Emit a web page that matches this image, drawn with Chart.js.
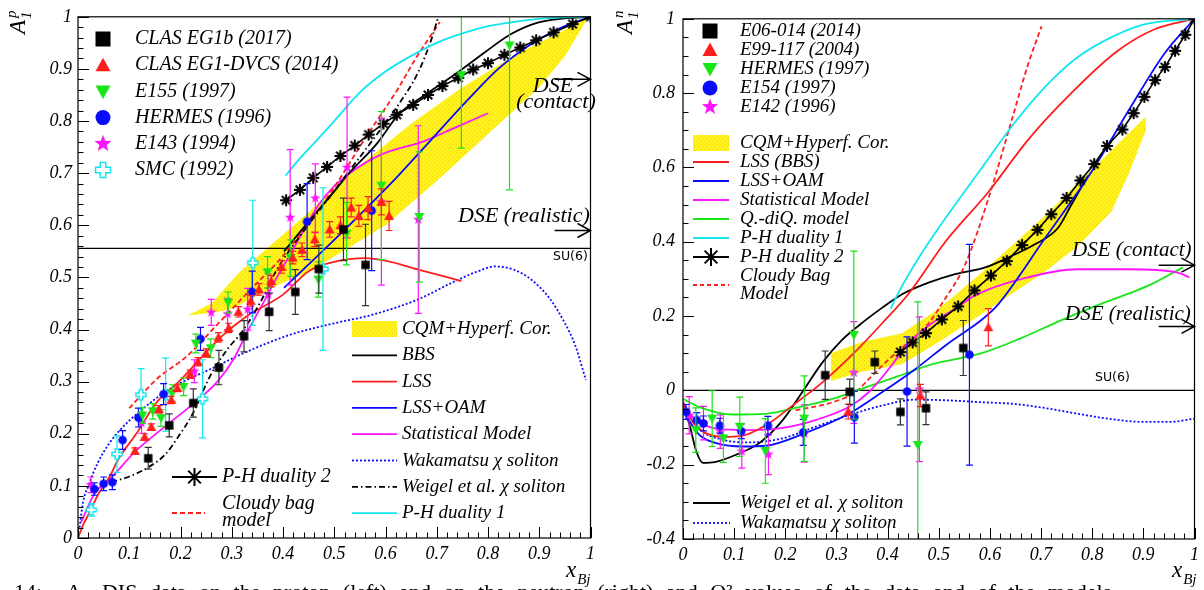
<!DOCTYPE html>
<html>
<head>
<meta charset="utf-8">
<script src="https://cdn.jsdelivr.net/npm/chart.js"></script>
<style>
  html, body { margin: 0; padding: 0; background: #fff; overflow: hidden; }
  body { width: 1204px; height: 590px; position: relative; }
  .panel { position: absolute; top: 0; height: 590px; }
  #wrapP { left: 0; width: 600px; }
  #wrapN { left: 600px; width: 604px; }
  .caption { position: absolute; top: 581px; left: 14px; font: 22px "Liberation Serif", serif;
             white-space: nowrap; word-spacing: 7px; line-height: 22px; }
</style>
</head>
<body>
<div class="panel" id="wrapP"><canvas id="protonChart" width="600" height="590"></canvas></div>
<div class="panel" id="wrapN"><canvas id="neutronChart" width="604" height="590"></canvas></div>
<div class="caption">14:&nbsp; A₁ DIS data on the proton (left) and on the neutron (right) and Q² values of the data and of the models.</div>
<script>
// ---------------- proton panel (left) ----------------
const pClasEg1bX = [0.137, 0.178, 0.225, 0.275, 0.324, 0.373, 0.424, 0.470, 0.518, 0.561];
const pClasEg1bY = [0.153, 0.216, 0.259, 0.327, 0.387, 0.434, 0.472, 0.516, 0.592, 0.524];
const pClasEg1bE = [0.021, 0.022, 0.027, 0.033, 0.030, 0.036, 0.043, 0.046, 0.060, 0.078];

const pDvcsX = [0.111, 0.130, 0.143, 0.158, 0.182, 0.194, 0.219, 0.234, 0.250, 0.274, 0.294, 0.313, 0.337,
                0.353, 0.377, 0.397, 0.419, 0.437, 0.462, 0.491, 0.512, 0.533, 0.548, 0.566, 0.592, 0.607];
const pDvcsY = [0.167, 0.194, 0.213, 0.247, 0.265, 0.288, 0.314, 0.338, 0.355, 0.385, 0.403, 0.434, 0.455,
                0.477, 0.493, 0.520, 0.538, 0.553, 0.573, 0.592, 0.600, 0.634, 0.618, 0.633, 0.645, 0.618];
const pDvcsE = [0.006, 0.006, 0.006, 0.007, 0.007, 0.007, 0.008, 0.008, 0.008, 0.009, 0.009, 0.010, 0.010,
                0.011, 0.011, 0.012, 0.012, 0.013, 0.014, 0.015, 0.016, 0.018, 0.020, 0.022, 0.025, 0.028];

const pE155X = [0.126, 0.146, 0.162, 0.184, 0.206, 0.230, 0.259, 0.293, 0.370, 0.415, 0.469, 0.524, 0.592, 0.666, 0.748, 0.842];
const pE155Y = [0.235, 0.243, 0.230, 0.278, 0.290, 0.373, 0.364, 0.452, 0.510, 0.537, 0.496, 0.584, 0.676, 0.616, 0.888, 0.945];
const pE155E = [0.015, 0.015, 0.016, 0.016, 0.017, 0.018, 0.018, 0.020, 0.030, 0.035, 0.034, 0.060, 0.142, 0.125, 0.140, 0.277];

const pHermesX = [0.032, 0.050, 0.067, 0.087, 0.118, 0.167, 0.239, 0.340, 0.447, 0.573];
const pHermesY = [0.094, 0.104, 0.107, 0.188, 0.231, 0.276, 0.382, 0.472, 0.607, 0.628];
const pHermesE = [0.012, 0.013, 0.014, 0.018, 0.018, 0.020, 0.022, 0.040, 0.073, 0.115];

const pE143X = [0.025, 0.124, 0.227, 0.260, 0.292, 0.331, 0.371, 0.414, 0.463, 0.525, 0.592, 0.664];
const pE143Y = [0.102, 0.221, 0.320, 0.433, 0.430, 0.439, 0.467, 0.615, 0.652, 0.711, 0.645, 0.611];
const pE143E = [0.015, 0.020, 0.022, 0.025, 0.030, 0.040, 0.040, 0.130, 0.066, 0.135, 0.160, 0.180];

const pSmcX = [0.026, 0.076, 0.123, 0.171, 0.243, 0.341, 0.478];
const pSmcY = [0.054, 0.161, 0.275, 0.275, 0.267, 0.528, 0.516];
const pSmcE = [0.012, 0.035, 0.050, 0.070, 0.075, 0.120, 0.156];

const pBandUpX = [0.214, 0.26, 0.315, 0.38, 0.45, 0.55, 0.65, 0.75, 0.85, 0.95, 0.99];
const pBandUpY = [0.427, 0.45, 0.51, 0.565, 0.625, 0.715, 0.795, 0.865, 0.925, 0.975, 0.995];
const pBandLoX = [0.214, 0.265, 0.30, 0.35, 0.40, 0.45, 0.50, 0.60, 0.70, 0.80, 0.90, 0.95, 0.99];
const pBandLoY = [0.427, 0.432, 0.44, 0.465, 0.49, 0.51, 0.54, 0.60, 0.685, 0.775, 0.865, 0.925, 0.99];

const pBbsX = [0.402, 0.45, 0.50, 0.528, 0.573, 0.586, 0.625, 0.677, 0.742, 0.794, 0.845, 0.897, 0.949, 1.0];
const pBbsY = [0.55, 0.607, 0.665, 0.699, 0.745, 0.76, 0.812, 0.85, 0.894, 0.932, 0.967, 0.989, 0.997, 1.0];

const pLssX = [0, 0.01, 0.023, 0.04, 0.062, 0.078, 0.113, 0.155, 0.194, 0.233, 0.278, 0.33, 0.40, 0.45, 0.50, 0.56, 0.60, 0.664, 0.748];
const pLssY = [0, 0.025, 0.05, 0.085, 0.118, 0.15, 0.199, 0.262, 0.297, 0.338, 0.385, 0.426, 0.467, 0.512, 0.530, 0.537, 0.532, 0.515, 0.493];

const pOamX = [0.402, 0.45, 0.5, 0.56, 0.62, 0.69, 0.76, 0.82, 0.88, 0.94, 1.0];
const pOamY = [0.48, 0.525, 0.572, 0.63, 0.69, 0.765, 0.84, 0.9, 0.945, 0.978, 1.0];

const pStatX = [0.006, 0.032, 0.065, 0.113, 0.175, 0.223, 0.272, 0.304, 0.33, 0.362, 0.388, 0.412, 0.44, 0.47, 0.50, 0.53, 0.59, 0.677, 0.735, 0.80];
const pStatY = [0.03, 0.085, 0.116, 0.167, 0.218, 0.256, 0.30, 0.344, 0.395, 0.452, 0.50, 0.54, 0.59, 0.64, 0.675, 0.70, 0.735, 0.762, 0.787, 0.815];

const pWakaX = [0.003, 0.01, 0.02, 0.039, 0.06, 0.08, 0.123, 0.181, 0.265, 0.324, 0.414, 0.5, 0.573, 0.664, 0.73, 0.781, 0.813, 0.85, 0.884, 0.92, 0.949, 0.97, 0.991];
const pWakaY = [0.02, 0.07, 0.1, 0.145, 0.18, 0.205, 0.245, 0.287, 0.327, 0.355, 0.39, 0.412, 0.428, 0.458, 0.49, 0.512, 0.521, 0.515, 0.496, 0.46, 0.414, 0.37, 0.303];

const pWeigelX = [0.065, 0.10, 0.136, 0.17, 0.194, 0.223, 0.259, 0.29, 0.324, 0.36, 0.388, 0.43, 0.48, 0.53, 0.58, 0.625, 0.664, 0.69, 0.703];
const pWeigelY = [0.107, 0.118, 0.135, 0.16, 0.192, 0.237, 0.313, 0.36, 0.401, 0.46, 0.515, 0.575, 0.64, 0.705, 0.77, 0.831, 0.894, 0.958, 1.0];

const pPh1X = [0.405, 0.43, 0.463, 0.5, 0.55, 0.6, 0.65, 0.7, 0.75, 0.8, 0.85, 0.9, 0.95, 1.0];
const pPh1Y = [0.695, 0.725, 0.76, 0.80, 0.855, 0.895, 0.925, 0.95, 0.968, 0.982, 0.99, 0.996, 0.999, 1.0];

const pPh2X = [0.406, 0.433, 0.459, 0.486, 0.512, 0.54, 0.567, 0.596, 0.622, 0.654, 0.683, 0.711, 0.742, 0.771, 0.80, 0.832, 0.863, 0.894, 0.928, 0.965, 1.0];
const pPh2Y = [0.648, 0.668, 0.691, 0.712, 0.733, 0.753, 0.774, 0.795, 0.812, 0.831, 0.85, 0.867, 0.883, 0.899, 0.911, 0.927, 0.941, 0.955, 0.970, 0.986, 1.0];

const pCloudyX = [0.10, 0.155, 0.214, 0.272, 0.343, 0.39, 0.431, 0.496, 0.561, 0.625, 0.657, 0.706];
const pCloudyY = [0.249, 0.306, 0.35, 0.41, 0.483, 0.53, 0.579, 0.667, 0.768, 0.863, 0.917, 0.99];

const pSu6 = 5 / 9;
const pDseContact = 0.88;
const pDseRealistic = 0.59;

// ---------------- neutron panel (right) ----------------
const nE06X = [0.278, 0.326, 0.375, 0.425, 0.475, 0.548];
const nE06Y = [0.041, -0.004, 0.076, -0.058, -0.048, 0.114];
const nE06E = [0.065, 0.034, 0.030, 0.035, 0.044, 0.074];

const nE99X = [0.323, 0.464, 0.597];
const nE99Y = [-0.057, -0.014, 0.170];
const nE99E = [0.020, 0.030, 0.050];

const nHermesX = [0.025, 0.057, 0.079, 0.111, 0.161, 0.237, 0.334, 0.459];
const nHermesY = [-0.107, -0.076, -0.129, -0.098, -0.163, -0.076, 0.149, -0.147];
const nHermesE = [0.060, 0.075, 0.065, 0.080, 0.087, 0.115, 0.226, 0.385];

const nE154X = [0.006, 0.027, 0.040, 0.072, 0.114, 0.166, 0.235, 0.335, 0.438, 0.560];
const nE154Y = [-0.058, -0.080, -0.089, -0.095, -0.110, -0.095, -0.113, -0.072, -0.003, 0.096];
const nE154E = [0.020, 0.020, 0.020, 0.020, 0.020, 0.025, 0.035, 0.070, 0.147, 0.297];

const nE142X = [0.012, 0.040, 0.073, 0.115, 0.167, 0.237, 0.334, 0.462];
const nE142Y = [-0.067, -0.088, -0.111, -0.164, -0.172, -0.116, 0.048, 0.003];
const nE142E = [0.050, 0.045, 0.045, 0.045, 0.055, 0.077, 0.137, 0.195];

const nBandX = [0.289, 0.35, 0.428, 0.5, 0.578, 0.643, 0.708, 0.773, 0.837, 0.87, 0.905];
const nBandUpY = [0.10, 0.13, 0.154, 0.22, 0.31, 0.39, 0.47, 0.56, 0.645, 0.69, 0.737];
const nBandLoY = [0.025, 0.05, 0.07, 0.13, 0.2, 0.26, 0.32, 0.39, 0.48, 0.578, 0.70];

const nLssX = [0, 0.019, 0.039, 0.078, 0.113, 0.162, 0.214, 0.272, 0.331, 0.389, 0.441, 0.513, 0.597, 0.675, 0.759, 0.85, 0.922, 1.0];
const nLssY = [-0.032, -0.085, -0.111, -0.125, -0.123, -0.094, -0.041, 0.021, 0.096, 0.18, 0.26, 0.40, 0.534, 0.675, 0.80, 0.914, 0.972, 1.0];

const nOamX = [0, 0.032, 0.065, 0.117, 0.162, 0.237, 0.324, 0.389, 0.454, 0.519, 0.584, 0.617, 0.708, 0.798, 0.876, 0.941, 1.0];
const nOamY = [-0.054, -0.12, -0.142, -0.151, -0.149, -0.116, -0.063, -0.005, 0.057, 0.127, 0.19, 0.233, 0.41, 0.587, 0.764, 0.906, 1.0];

const nStatX = [0, 0.026, 0.065, 0.13, 0.195, 0.259, 0.324, 0.363, 0.402, 0.441, 0.486, 0.538, 0.57, 0.662, 0.772, 0.87, 0.967, 0.99];
const nStatY = [-0.045, -0.08, -0.103, -0.107, -0.101, -0.08, -0.045, -0.005, 0.057, 0.127, 0.18, 0.225, 0.255, 0.30, 0.326, 0.326, 0.317, 0.304];

const nQdqX = [0, 0.032, 0.097, 0.162, 0.227, 0.292, 0.357, 0.422, 0.486, 0.584, 0.66, 0.74, 0.831, 0.889, 0.922, 0.977];
const nQdqY = [-0.023, -0.045, -0.065, -0.063, -0.045, -0.023, 0.008, 0.039, 0.07, 0.10, 0.14, 0.189, 0.24, 0.27, 0.29, 0.331];

const nPh1X = [0.406, 0.422, 0.461, 0.513, 0.578, 0.643, 0.708, 0.772, 0.837, 0.902, 1.0];
const nPh1Y = [0.22, 0.265, 0.357, 0.463, 0.587, 0.711, 0.817, 0.897, 0.95, 0.985, 1.0];

const nPh2X = [0.425, 0.449, 0.475, 0.506, 0.538, 0.57, 0.602, 0.633, 0.663, 0.693, 0.72, 0.75, 0.777, 0.804, 0.829, 0.859, 0.881, 0.902, 0.923, 0.942, 0.962, 0.982, 1.0];
const nPh2Y = [0.103, 0.129, 0.154, 0.191, 0.226, 0.269, 0.309, 0.348, 0.391, 0.432, 0.474, 0.518, 0.565, 0.609, 0.658, 0.702, 0.746, 0.79, 0.835, 0.87, 0.914, 0.957, 1.0];

const nCloudyX = [0.22, 0.292, 0.337, 0.363, 0.402, 0.454, 0.48, 0.506, 0.552, 0.597, 0.643, 0.675, 0.701];
const nCloudyY = [-0.054, -0.032, -0.005, 0.03, 0.083, 0.145, 0.18, 0.233, 0.34, 0.516, 0.729, 0.879, 0.98];

const nWeigelX = [0, 0.013, 0.026, 0.039, 0.062, 0.104, 0.149, 0.195, 0.233, 0.272, 0.311, 0.357, 0.389, 0.43, 0.48, 0.532, 0.591, 0.643, 0.688, 0.733, 0.759, 0.792];
const nWeigelY = [-0.041, -0.094, -0.164, -0.195, -0.193, -0.173, -0.142, -0.08, -0.005, 0.074, 0.136, 0.189, 0.222, 0.26, 0.29, 0.313, 0.331, 0.362, 0.393, 0.437, 0.499, 0.578];

const nWakaX = [0, 0.032, 0.078, 0.13, 0.195, 0.259, 0.324, 0.389, 0.454, 0.52, 0.584, 0.643, 0.71, 0.772, 0.84, 0.902, 0.95, 1.0];
const nWakaY = [-0.032, -0.103, -0.133, -0.14, -0.129, -0.098, -0.067, -0.041, -0.025, -0.027, -0.032, -0.036, -0.048, -0.063, -0.078, -0.085, -0.085, -0.076];

const nSu6 = 0;
const nDseContact = 0.337;
const nDseRealistic = 0.172;
const dseArrowFrom = 0.93;

// colours
const RED = '#ff1e1e', GREEN = '#19e619', BLUE = '#0a0aff', MAGENTA = '#ff14ff', CYAN = '#12e6f0';
const SERIF = '"Liberation Serif", serif';

// ---------------- helpers ----------------
const pts = (xs, ys) => xs.map((x, i) => ({ x: x, y: ys[i] }));

function drawMarker(ctx, style, x, y, r, color) {
    ctx.save();
    ctx.fillStyle = color;
    ctx.strokeStyle = color;
    ctx.beginPath();
    if (style === 'square') {
        ctx.fillRect(x - r, y - r, 2 * r, 2 * r);
    } else if (style === 'triUp') {
        ctx.moveTo(x, y - r); ctx.lineTo(x + r, y + 0.8 * r); ctx.lineTo(x - r, y + 0.8 * r);
        ctx.closePath(); ctx.fill();
    } else if (style === 'triDown') {
        ctx.moveTo(x, y + r); ctx.lineTo(x + r, y - 0.8 * r); ctx.lineTo(x - r, y - 0.8 * r);
        ctx.closePath(); ctx.fill();
    } else if (style === 'circle') {
        ctx.arc(x, y, r, 0, Math.PI * 2); ctx.fill();
    } else if (style === 'star5') {
        for (let i = 0; i < 10; i++) {
            const a = -Math.PI / 2 + i * Math.PI / 5;
            const rr = i % 2 ? r * 0.42 : r;
            const px = x + rr * Math.cos(a), py = y + rr * Math.sin(a);
            if (i === 0) ctx.moveTo(px, py); else ctx.lineTo(px, py);
        }
        ctx.closePath(); ctx.fill();
    } else if (style === 'openCross') {
        const w = r * 0.36;
        const c = [[-w, -r], [w, -r], [w, -w], [r, -w], [r, w], [w, w], [w, r], [-w, r], [-w, w], [-r, w], [-r, -w], [-w, -w]];
        c.forEach((p, i) => i ? ctx.lineTo(x + p[0], y + p[1]) : ctx.moveTo(x + p[0], y + p[1]));
        ctx.closePath();
        ctx.fillStyle = '#fff'; ctx.fill();
        ctx.lineWidth = 1.5; ctx.stroke();
    } else if (style === 'asterisk') {
        ctx.lineWidth = 2;
        for (let k = 0; k < 4; k++) {
            const a = k * Math.PI / 4;
            ctx.moveTo(x - r * Math.cos(a), y - r * Math.sin(a));
            ctx.lineTo(x + r * Math.cos(a), y + r * Math.sin(a));
        }
        ctx.stroke();
    }
    ctx.restore();
}

function markerImage(style, r, color) {
    const s = Math.ceil(2 * r + 4);
    const c = document.createElement('canvas');
    c.width = s; c.height = s;
    drawMarker(c.getContext('2d'), style, s / 2, s / 2, r, color);
    return c;
}

function bandPattern() {
    const c = document.createElement('canvas');
    c.width = 4; c.height = 4;
    const g = c.getContext('2d');
    g.fillStyle = '#fff21e'; g.fillRect(0, 0, 4, 4);
    g.fillStyle = '#ecd800'; g.fillRect(0, 0, 1, 1); g.fillRect(2, 2, 1, 1);
    return g.createPattern(c, 'repeat');
}
const yellowFill = bandPattern();

function markerSet(xs, ys, errs, style, r, color, errColor) {
    return {
        data: pts(xs, ys), errY: errs, errColor: errColor || color,
        showLine: false, pointStyle: markerImage(style, r, color), pointRadius: r
    };
}

function curveSet(xs, ys, color, dash) {
    return {
        data: pts(xs, ys), showLine: true, pointRadius: 0, borderColor: color,
        borderWidth: 1.8, borderDash: dash || [], cubicInterpolationMode: 'monotone', fill: false
    };
}

function starLine(xs, ys) {
    return {
        data: pts(xs, ys), showLine: true, borderColor: '#000', borderWidth: 1.6,
        pointStyle: markerImage('asterisk', 6, '#000'), pointRadius: 6, tension: 0, fill: false
    };
}

function bandSet(upX, upY, loX, loY) {
    return {
        data: pts(upX, upY).concat(pts(loX, loY).reverse()), showLine: true, borderWidth: 0,
        borderColor: 'rgba(0,0,0,0)', backgroundColor: yellowFill, fill: 'shape', pointRadius: 0, tension: 0
    };
}

function flatLine(v) {
    return { data: [{ x: 0, y: v }, { x: 1, y: v }], showLine: true, borderColor: '#000', borderWidth: 1.2, pointRadius: 0 };
}

// error bars drawn just before each marker dataset
const errorBars = {
    id: 'errorBars',
    beforeDatasetDraw(chart, args) {
        const ds = chart.data.datasets[args.index];
        if (!ds.errY) return;
        const { ctx, chartArea: a, scales: { y } } = chart;
        ctx.save();
        ctx.beginPath();
        ctx.rect(a.left, a.top, a.right - a.left, a.bottom - a.top);
        ctx.clip();
        ctx.strokeStyle = ds.errColor;
        ctx.lineWidth = 1.2;
        args.meta.data.forEach((pt, i) => {
            const v = ds.data[i].y, e = ds.errY[i];
            const top = y.getPixelForValue(v + e), bot = y.getPixelForValue(v - e);
            ctx.beginPath();
            ctx.moveTo(pt.x, top); ctx.lineTo(pt.x, bot);
            ctx.moveTo(pt.x - 3.5, top); ctx.lineTo(pt.x + 3.5, top);
            ctx.moveTo(pt.x - 3.5, bot); ctx.lineTo(pt.x + 3.5, bot);
            ctx.stroke();
        });
        ctx.restore();
    }
};

function frameAndTicks(chart, yMajor, yMinor) {
    const { ctx, chartArea: a, scales: { x, y } } = chart;
    ctx.save();
    ctx.strokeStyle = '#000';
    ctx.lineWidth = 1.2;
    ctx.strokeRect(a.left, a.top, a.right - a.left, a.bottom - a.top);
    ctx.lineWidth = 1;
    ctx.beginPath();
    for (let k = 0; k <= 50; k++) {
        const px = Math.round(x.getPixelForValue(k * 0.02)) + 0.5;
        const len = k % 5 === 0 ? 11 : 5.5;
        ctx.moveTo(px, a.bottom); ctx.lineTo(px, a.bottom - len);
    }
    const n = Math.round((y.max - y.min) / yMinor);
    const per = Math.round(yMajor / yMinor);
    for (let k = 0; k <= n; k++) {
        const py = Math.round(y.getPixelForValue(y.min + k * yMinor)) + 0.5;
        const len = k % per === 0 ? 11 : 5.5;
        ctx.moveTo(a.left, py); ctx.lineTo(a.left + len, py);
    }
    ctx.stroke();
    ctx.restore();
}

function text(ctx, str, x, y, size, align, family) {
    ctx.save();
    ctx.fillStyle = '#000';
    ctx.font = family ? size + 'px ' + family : 'italic ' + size + 'px ' + SERIF;
    ctx.textAlign = align || 'left';
    ctx.textBaseline = 'middle';
    ctx.fillText(str, x, y);
    ctx.restore();
}

function dseArrow(chart, value) {
    const { ctx, scales: { x, y } } = chart;
    const x0 = x.getPixelForValue(dseArrowFrom), x1 = x.getPixelForValue(1);
    const py = y.getPixelForValue(value);
    ctx.save();
    ctx.strokeStyle = '#000'; ctx.lineWidth = 1.5;
    ctx.beginPath();
    ctx.moveTo(x0, py); ctx.lineTo(x1, py);
    ctx.moveTo(x1 - 13, py - 7); ctx.lineTo(x1, py); ctx.lineTo(x1 - 13, py + 7);
    ctx.stroke();
    ctx.restore();
}

function yTitle(ctx, ox, oy, sup) {
    ctx.save();
    ctx.translate(ox, oy);
    ctx.rotate(-Math.PI / 2);
    ctx.fillStyle = '#000';
    ctx.textBaseline = 'alphabetic';
    ctx.font = 'italic 23px ' + SERIF;
    ctx.fillText('A', 0, 0);
    const w = ctx.measureText('A').width;
    ctx.font = 'italic 15px ' + SERIF;
    ctx.fillText('1', w + 1, 6);
    ctx.fillText(sup, w + 2, -9);
    ctx.restore();
}

function xTitle(ctx, x, y) {
    ctx.save();
    ctx.fillStyle = '#000';
    ctx.textBaseline = 'alphabetic';
    ctx.font = 'italic 23px ' + SERIF;
    ctx.fillText('x', x, y);
    const w = ctx.measureText('x').width;
    ctx.font = 'italic 15px ' + SERIF;
    ctx.fillText('Bj', x + w + 1, y + 7);
    ctx.restore();
}

function legendLine(ctx, kind, color, dash, x0, x1, y) {
    ctx.save();
    if (kind === 'box') {
        ctx.fillStyle = yellowFill;
        ctx.fillRect(x0, y - 8, x1 - x0, 16);
    } else {
        ctx.strokeStyle = color; ctx.lineWidth = 1.8;
        ctx.setLineDash(dash || []);
        ctx.beginPath(); ctx.moveTo(x0, y); ctx.lineTo(x1, y); ctx.stroke();
        if (kind === 'star') drawMarker(ctx, 'asterisk', (x0 + x1) / 2, y, 9, '#000');
    }
    ctx.restore();
}

// legend contents
const pLegendData = [
    ['square', '#000', 'CLAS EG1b (2017)'], ['triUp', RED, 'CLAS EG1-DVCS (2014)'],
    ['triDown', GREEN, 'E155 (1997)'], ['circle', BLUE, 'HERMES (1996)'],
    ['star5', MAGENTA, 'E143 (1994)'], ['openCross', CYAN, 'SMC (1992)']
];
const pLegendModels = [
    ['box', null, null, 'CQM+Hyperf. Cor.'], ['line', '#000', null, 'BBS'], ['line', RED, null, 'LSS'],
    ['line', BLUE, null, 'LSS+OAM'], ['line', MAGENTA, null, 'Statistical Model'],
    ['line', BLUE, [2, 2], 'Wakamatsu χ soliton'], ['line', '#000', [6, 3, 1.5, 3], 'Weigel et al. χ soliton'],
    ['line', CYAN, null, 'P-H duality 1']
];
const nLegendData = [
    ['square', '#000', 'E06-014 (2014)'], ['triUp', RED, 'E99-117 (2004)'],
    ['triDown', GREEN, 'HERMES (1997)'], ['circle', BLUE, 'E154 (1997)'], ['star5', MAGENTA, 'E142 (1996)']
];
const nLegendModels = [
    ['box', null, null, 'CQM+Hyperf. Cor.'], ['line', RED, null, 'LSS (BBS)'], ['line', BLUE, null, 'LSS+OAM'],
    ['line', MAGENTA, null, 'Statistical Model'], ['line', GREEN, null, 'Q.-diQ. model'],
    ['line', CYAN, null, 'P-H duality 1'], ['star', '#000', null, 'P-H duality 2']
];

function drawProtonExtras(chart) {
    const ctx = chart.ctx;
    frameAndTicks(chart, 0.1, 0.02);
    dseArrow(chart, pDseContact);
    dseArrow(chart, pDseRealistic);
    text(ctx, 'DSE', 553, 86, 22, 'center');
    text(ctx, '(contact)', 556, 102, 22, 'center');
    text(ctx, 'DSE (realistic)', 458, 216, 22);
    text(ctx, 'SU(6)', 553, 257, 12.5, 'left', '"DejaVu Sans", sans-serif');

    pLegendData.forEach((it, i) => {
        const y = 39 + i * 26.2;
        drawMarker(ctx, it[0], 103, y, it[0] === 'star5' ? 9 : 7.5, it[1]);
        text(ctx, it[2], 135, y, 20);
    });
    pLegendModels.forEach((it, i) => {
        const y = 329 + i * 26.3;
        legendLine(ctx, it[0], it[1], it[2], 352, 397, y);
        text(ctx, it[3], 402, y, 19);
    });
    legendLine(ctx, 'star', '#000', null, 172, 217, 477);
    text(ctx, 'P-H duality 2', 222, 477, 20);
    legendLine(ctx, 'line', RED, [5, 3], 172, 205, 513);
    text(ctx, 'Cloudy bag', 222, 504, 20);
    text(ctx, 'model', 222, 521, 20);

    yTitle(ctx, 25, 34, 'p');
    xTitle(ctx, 566, 577);
}

function drawNeutronExtras(chart) {
    const ctx = chart.ctx;
    frameAndTicks(chart, 0.2, 0.05);
    dseArrow(chart, nDseContact);
    dseArrow(chart, nDseRealistic);
    text(ctx, 'DSE (contact)', 472, 250, 21);
    text(ctx, 'DSE (realistic)', 465, 314, 21);
    text(ctx, 'SU(6)', 495, 378, 12.5, 'left', '"DejaVu Sans", sans-serif');

    nLegendData.forEach((it, i) => {
        const y = 31 + i * 19;
        drawMarker(ctx, it[0], 110, y, it[0] === 'star5' ? 8.5 : 7.5, it[1]);
        text(ctx, it[2], 140, y, 19);
    });
    nLegendModels.forEach((it, i) => {
        const y = 143 + i * 19;
        legendLine(ctx, it[0], it[1], it[2], 93, 129, y);
        text(ctx, it[3], 140, y, 19);
    });
    legendLine(ctx, 'line', RED, [4, 3], 93, 129, 285);
    text(ctx, 'Cloudy Bag', 140, 276, 19);
    text(ctx, 'Model', 140, 294, 19);
    legendLine(ctx, 'line', '#000', null, 93, 130, 503);
    text(ctx, 'Weigel et al. χ soliton', 140, 503, 19);
    legendLine(ctx, 'line', BLUE, [2, 2], 93, 130, 523);
    text(ctx, 'Wakamatsu χ soliton', 140, 523, 19);

    yTitle(ctx, 32, 34, 'n');
    xTitle(ctx, 572, 577);
}

const tickFont = { family: SERIF, size: 18, style: 'italic' };
const fmt = v => { const r = Math.round(v * 10) / 10; return r === 0 ? '0' : String(r); };

function makeOptions(yMin, yMax, yStep, yWidth, yPad, xHeight) {
    return {
        responsive: false,
        animation: false,
        events: [],
        layout: { padding: { left: 0, right: 7, top: 11, bottom: 0 } },
        plugins: { legend: { display: false }, tooltip: { enabled: false } },
        scales: {
            x: {
                type: 'linear', min: 0, max: 1,
                grid: { display: false, drawTicks: false }, border: { display: false },
                ticks: { stepSize: 0.1, padding: 5, color: '#000', font: tickFont, callback: fmt, maxRotation: 0, autoSkip: false },
                afterFit: s => { s.height = xHeight; }
            },
            y: {
                type: 'linear', min: yMin, max: yMax,
                grid: { display: false, drawTicks: false }, border: { display: false },
                ticks: { stepSize: yStep, padding: yPad, color: '#000', font: tickFont, callback: fmt, autoSkip: false },
                afterFit: s => { s.width = yWidth; }
            }
        }
    };
}

// ---------------- proton chart ----------------
new Chart(document.getElementById('protonChart').getContext('2d'), {
    type: 'line',
    data: {
        datasets: [
            markerSet(pClasEg1bX, pClasEg1bY, pClasEg1bE, 'square', 4.2, '#000', '#333'),
            markerSet(pDvcsX, pDvcsY, pDvcsE, 'triUp', 5, RED),
            markerSet(pE155X, pE155Y, pE155E, 'triDown', 5, GREEN),
            markerSet(pHermesX, pHermesY, pHermesE, 'circle', 4.3, BLUE),
            markerSet(pE143X, pE143Y, pE143E, 'star5', 5.5, MAGENTA),
            markerSet(pSmcX, pSmcY, pSmcE, 'openCross', 5, CYAN),
            starLine(pPh2X, pPh2Y),
            curveSet(pPh1X, pPh1Y, CYAN),
            curveSet(pBbsX, pBbsY, '#000'),
            curveSet(pWeigelX, pWeigelY, '#000', [6, 3, 1.5, 3]),
            curveSet(pCloudyX, pCloudyY, RED, [5, 3]),
            curveSet(pLssX, pLssY, RED),
            curveSet(pOamX, pOamY, BLUE),
            curveSet(pStatX, pStatY, MAGENTA),
            curveSet(pWakaX, pWakaY, BLUE, [2, 2]),
            flatLine(pSu6),
            bandSet(pBandUpX, pBandUpY, pBandLoX, pBandLoY)
        ]
    },
    options: makeOptions(0, 1, 0.1, 78, 6, 52),
    plugins: [errorBars, { id: 'protonExtras', afterDraw: drawProtonExtras }]
});

// ---------------- neutron chart ----------------
new Chart(document.getElementById('neutronChart').getContext('2d'), {
    type: 'line',
    data: {
        datasets: [
            markerSet(nE06X, nE06Y, nE06E, 'square', 4.2, '#000', '#333'),
            markerSet(nE99X, nE99Y, nE99E, 'triUp', 5, RED),
            markerSet(nHermesX, nHermesY, nHermesE, 'triDown', 5, GREEN),
            markerSet(nE154X, nE154Y, nE154E, 'circle', 4.3, BLUE),
            markerSet(nE142X, nE142Y, nE142E, 'star5', 5.5, MAGENTA),
            starLine(nPh2X, nPh2Y),
            curveSet(nPh1X, nPh1Y, CYAN),
            curveSet(nLssX, nLssY, RED),
            curveSet(nOamX, nOamY, BLUE),
            curveSet(nStatX, nStatY, MAGENTA),
            curveSet(nQdqX, nQdqY, GREEN),
            curveSet(nCloudyX, nCloudyY, RED, [5, 3]),
            curveSet(nWeigelX, nWeigelY, '#000'),
            curveSet(nWakaX, nWakaY, BLUE, [2, 2]),
            flatLine(nSu6),
            bandSet(nBandX, nBandUpY, nBandX, nBandLoY)
        ]
    },
    options: makeOptions(-0.4, 1, 0.2, 83, 8, 51),
    plugins: [errorBars, { id: 'neutronExtras', afterDraw: drawNeutronExtras }]
});
</script>
</body>
</html>
